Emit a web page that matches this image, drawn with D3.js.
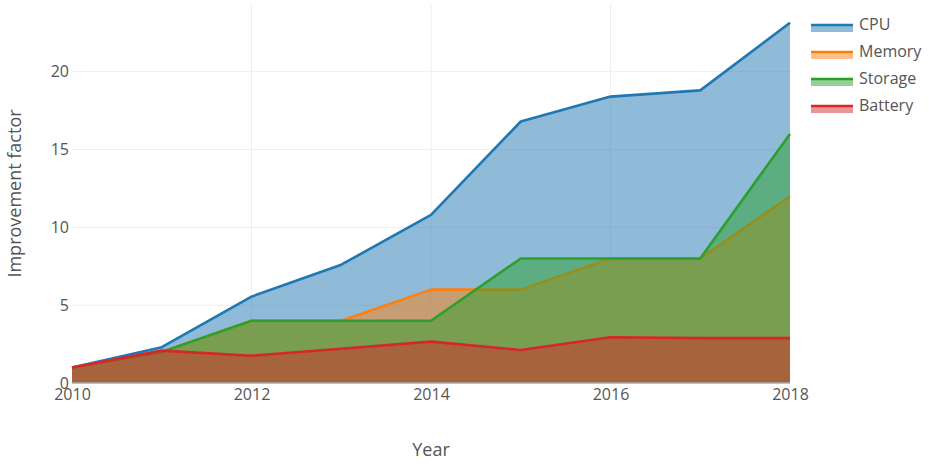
<!DOCTYPE html>
<html>
<head>
<meta charset="utf-8">
<script src="https://cdn.jsdelivr.net/npm/d3@7"></script>
<style>
  body { margin: 0; background: #fff; }
  text { font-family: "Open Sans", sans-serif; fill: #555; }
</style>
</head>
<body>
<svg id="chart" width="929" height="474"></svg>
<script>
// data
const years = [2010, 2011, 2012, 2013, 2014, 2015, 2016, 2017, 2018];
const cpu     = [1, 2.3, 5.55, 7.6, 10.8, 16.8, 18.4, 18.8, 23.15];
const memory  = [1, 2, 4, 4, 6, 6, 8, 8, 12];
const storage = [1, 2, 4, 4, 4, 8, 8, 8, 16];
const battery = [1, 2.08, 1.75, 2.2, 2.66, 2.12, 2.94, 2.88, 2.88];
const seriesNames = ['CPU', 'Memory', 'Storage', 'Battery'];
const xTicks = [2010, 2012, 2014, 2016, 2018];
const yTicks = [0, 5, 10, 15, 20];

const colors = ['#1f77b4', '#ff7f0e', '#2ca02c', '#d62728'];
const series = [cpu, memory, storage, battery].map((vals, i) => ({
  name: seriesNames[i],
  color: colors[i],
  points: vals.map((v, j) => ({ x: years[j], y: v }))
}));

const svg = d3.select('#chart');

// plot box
const plotLeft = 72, plotRight = 790, plotTop = 4, plotBottom = 383;

const x = d3.scaleLinear().domain([2010, 2018]).range([plotLeft, plotRight]);
const y = d3.scaleLinear().domain([0, 24.35]).range([plotBottom, plotTop]);

// grid
const grid = svg.append('g');
grid.selectAll('.hgrid')
    .data(yTicks.filter(d => d > 0))
    .enter().append('line')
    .attr('x1', plotLeft).attr('x2', plotRight)
    .attr('y1', d => y(d)).attr('y2', d => y(d))
    .attr('stroke', '#eee').attr('stroke-width', 1);
grid.selectAll('.vgrid')
    .data(xTicks.filter(d => d > 2010 && d < 2018))
    .enter().append('line')
    .attr('x1', d => x(d)).attr('x2', d => x(d))
    .attr('y1', plotTop).attr('y2', plotBottom)
    .attr('stroke', '#eee').attr('stroke-width', 1);

// areas, each trace draws its fill then its line
const area = d3.area().x(d => x(d.x)).y0(y(0)).y1(d => y(d.y));
const line = d3.line().x(d => x(d.x)).y(d => y(d.y));

series.forEach(s => {
  svg.append('path')
      .datum(s.points)
      .attr('d', area)
      .attr('fill', s.color)
      .attr('fill-opacity', 0.5);
  svg.append('path')
      .datum(s.points)
      .attr('d', line)
      .attr('fill', 'none')
      .attr('stroke', s.color)
      .attr('stroke-width', 2.6)
      .attr('stroke-linejoin', 'round');
});

// zero line
svg.append('line')
    .attr('x1', plotLeft).attr('x2', plotRight)
    .attr('y1', y(0)).attr('y2', y(0))
    .attr('stroke', '#aaa').attr('stroke-width', 1.3);

// axes (labels only, like plotly)
const xAxis = d3.axisBottom(x).tickValues(xTicks).tickFormat(d3.format('d')).tickSize(0).tickPadding(6);
const xg = svg.append('g').attr('transform', `translate(0,${plotBottom})`).call(xAxis);
xg.select('.domain').remove();
xg.selectAll('text').style('font-size', '16px').attr('fill', '#555');

const yAxis = d3.axisLeft(y).tickValues(yTicks).tickSize(0).tickPadding(3);
const yg = svg.append('g').attr('transform', `translate(${plotLeft},0)`).call(yAxis);
yg.select('.domain').remove();
yg.selectAll('text').style('font-size', '16px').attr('fill', '#555');

// axis titles
svg.append('text')
    .attr('x', (plotLeft + plotRight) / 2)
    .attr('y', 456)
    .attr('text-anchor', 'middle')
    .style('font-size', '18px')
    .text('Year');

svg.append('text')
    .attr('transform', `translate(21,${(plotTop + plotBottom) / 2}) rotate(-90)`)
    .attr('text-anchor', 'middle')
    .style('font-size', '18px')
    .text('Improvement factor');

// legend
const legend = svg.append('g').attr('transform', 'translate(811, 25)');
series.forEach((s, i) => {
  const g = legend.append('g').attr('transform', `translate(0, ${i * 27})`);
  g.append('rect')
      .attr('x', 0).attr('y', 0).attr('width', 42).attr('height', 7)
      .attr('fill', s.color).attr('fill-opacity', 0.5);
  g.append('line')
      .attr('x1', 0).attr('x2', 42).attr('y1', 0).attr('y2', 0)
      .attr('stroke', s.color).attr('stroke-width', 2.6);
  g.append('text')
      .attr('x', 48).attr('y', 5)
      .style('font-size', '16px')
      .text(s.name);
});
</script>
</body>
</html>
